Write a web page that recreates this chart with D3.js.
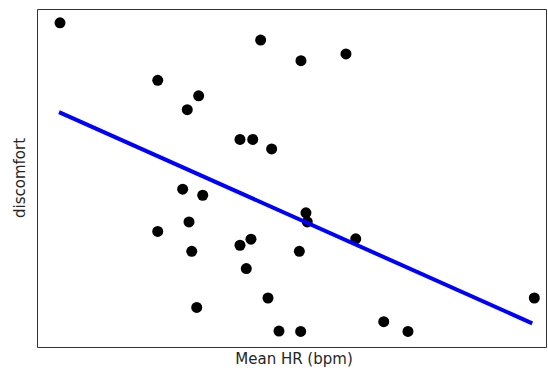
<!DOCTYPE html>
<html>
<head>
<meta charset="utf-8">
<script src="https://cdn.jsdelivr.net/npm/d3@7"></script>
<style>
  body { margin: 0; background: #fff; }
  .axis-label { font-family: "DejaVu Sans", sans-serif; font-size: 15px; fill: #262626; }
</style>
</head>
<body>
<div id="chart"></div>
<script>
// mean heart rate (bpm) and discomfort rating per subject
const meanHR = [57.26, 76.97, 66.86, 70.88, 69.76, 74.94, 76.19, 78.05, 80.93, 85.35,
  69.31, 71.28, 69.93, 66.86, 76.02, 74.94, 70.20, 75.56, 77.69, 70.69,
  78.77, 81.42, 81.55, 86.31, 80.77, 80.90, 89.06, 91.44, 103.85];
const discomfort = [9.59, 9.08, 7.89, 7.43, 7.02, 6.14, 6.14, 5.86, 8.47, 8.67,
  4.67, 4.49, 3.70, 3.42, 3.19, 3.01, 2.83, 2.32, 1.45, 1.17,
  0.47, 3.97, 3.70, 3.20, 2.83, 0.46, 0.75, 0.46, 1.45];
// fitted regression line, endpoints
const fitHR = [57.16, 103.65];
const fitDiscomfort = [6.95, 0.70];

const width = 548, height = 370;
const margin = { top: 9, right: 2, bottom: 23, left: 37 };

const svg = d3.select("#chart")
  .append("svg")
  .attr("width", width)
  .attr("height", height);

const x = d3.scaleLinear().domain([55, 105]).range([margin.left, width - margin.right]);
const y = d3.scaleLinear().domain([0, 10]).range([height - margin.bottom, margin.top]);

const points = meanHR.map((d, i) => ({ hr: d, disc: discomfort[i] }));
const fit = fitHR.map((d, i) => ({ hr: d, disc: fitDiscomfort[i] }));

svg.selectAll("circle")
  .data(points)
  .enter().append("circle")
  .attr("cx", d => x(d.hr))
  .attr("cy", d => y(d.disc))
  .attr("r", 5.5)
  .attr("fill", "#000");

const line = d3.line().x(d => x(d.hr)).y(d => y(d.disc));

svg.append("path")
  .datum(fit)
  .attr("d", line)
  .attr("fill", "none")
  .attr("stroke", "#0000ff")
  .attr("stroke-width", 4);

// axes frame, no ticks
svg.append("g")
  .attr("transform", `translate(0,${height - margin.bottom})`)
  .call(d3.axisBottom(x).tickValues([]).tickSizeOuter(0))
  .select(".domain").attr("stroke", "#333");
svg.append("g")
  .attr("transform", `translate(0,${margin.top})`)
  .call(d3.axisTop(x).tickValues([]).tickSizeOuter(0))
  .select(".domain").attr("stroke", "#333");
svg.append("g")
  .attr("transform", `translate(${margin.left},0)`)
  .call(d3.axisLeft(y).tickValues([]).tickSizeOuter(0))
  .select(".domain").attr("stroke", "#333");
svg.append("g")
  .attr("transform", `translate(${width - margin.right},0)`)
  .call(d3.axisRight(y).tickValues([]).tickSizeOuter(0))
  .select(".domain").attr("stroke", "#333");

svg.append("text")
  .attr("class", "axis-label")
  .attr("x", 294)
  .attr("y", 364)
  .attr("text-anchor", "middle")
  .text("Mean HR (bpm)");

svg.append("text")
  .attr("class", "axis-label")
  .attr("text-anchor", "middle")
  .attr("transform", "translate(25,178)rotate(-90)")
  .text("discomfort");
</script>
</body>
</html>
